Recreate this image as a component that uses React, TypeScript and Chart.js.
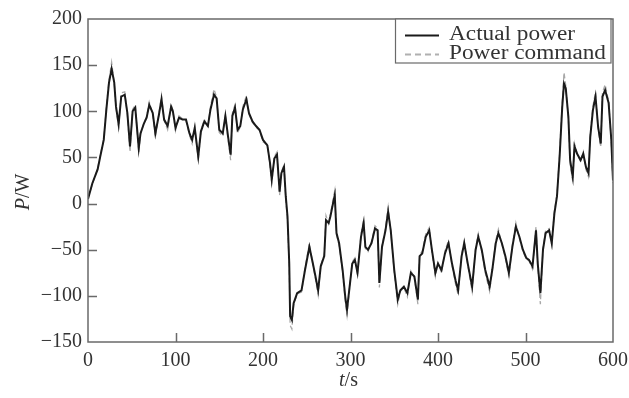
import { useEffect, useRef } from "react";
import { Chart, registerables } from "chart.js";

Chart.register(...registerables);

const timeSeconds = [
  0, 5, 11, 14, 18, 21, 24, 27, 30, 32, 35, 38, 42, 45, 48, 51, 54, 58, 60, 64,
  67, 70, 74, 77, 81, 84, 87, 91, 95, 97, 100, 104, 108, 112, 116, 119, 122, 126, 129, 133,
  137, 140, 144, 147, 150, 154, 157, 160, 163, 165, 168, 171, 174, 177, 181, 184, 188, 192, 196, 200,
  205, 208, 210, 213, 216, 219, 221, 224, 226, 228, 230, 231, 233, 235, 239, 244, 248, 253, 257, 260,
  263, 266, 270, 272, 275, 277, 280, 282, 284, 287, 291, 294, 296, 299, 302, 305, 308, 312, 315, 317,
  320, 324, 328, 331, 333, 336, 340, 343, 346, 350, 354, 357, 361, 365, 369, 373, 377, 379, 382, 386,
  390, 393, 397, 400, 404, 408, 412, 416, 420, 423, 427, 430, 434, 439, 443, 446, 450, 454, 459, 462,
  466, 469, 473, 477, 481, 485, 489, 493, 497, 501, 504, 508, 512, 514, 517, 520, 523, 527, 530, 533,
  536, 539, 542, 544, 546, 549, 551, 554, 556, 559, 563, 566, 569, 572, 574, 577, 580, 583, 586, 588,
  591, 595, 598, 600,
];

const actualPower = [
  5, 22, 37, 51, 69, 102, 131, 146, 131, 105, 86, 116, 118, 98, 62, 100, 104, 60, 76, 87,
  93, 107, 98, 76, 96, 113, 91, 84, 105, 100, 82, 93, 91, 91, 76, 69, 82, 51, 78, 89,
  84, 102, 118, 114, 80, 76, 95, 73, 53, 95, 104, 80, 84, 102, 113, 98, 89, 84, 80, 69,
  63, 44, 26, 49, 53, 13, 33, 40, 8, -14, -65, -122, -126, -108, -97, -94, -72, -47, -65, -79,
  -94, -68, -57, -18, -21, -14, 0, 9, -32, -43, -72, -101, -115, -90, -65, -61, -75, -36, -21, -47,
  -50, -43, -27, -29, -86, -47, -29, -9, -29, -72, -104, -94, -90, -97, -75, -79, -104, -57, -54, -36,
  -29, -50, -75, -65, -72, -54, -43, -65, -83, -94, -57, -43, -65, -90, -50, -36, -50, -72, -90, -72,
  -43, -32, -43, -57, -75, -47, -25, -36, -50, -59, -61, -68, -29, -65, -97, -50, -32, -29, -43, -11,
  8, 51, 105, 130, 125, 94, 47, 29, 62, 54, 47, 54, 40, 33, 72, 101, 116, 83, 65, 116,
  123, 109, 70, 25,
];

const powerCommand = [
  6, 21, 38, 52, 70, 104, 134, 153, 130, 104, 82, 120, 121, 96, 56, 102, 107, 55, 75, 88,
  94, 110, 97, 72, 97, 117, 90, 80, 108, 101, 79, 95, 92, 90, 74, 65, 84, 46, 79, 91,
  83, 105, 124, 115, 77, 73, 97, 70, 47, 98, 107, 77, 83, 105, 117, 97, 88, 83, 79, 67,
  64, 40, 22, 51, 56, 9, 34, 42, 5, -18, -70, -132, -136, -110, -98, -96, -70, -43, -66, -82,
  -99, -67, -55, -13, -22, -12, 4, 14, -34, -45, -75, -106, -121, -91, -63, -59, -78, -33, -17, -49,
  -52, -41, -24, -27, -91, -46, -26, -4, -30, -75, -109, -95, -91, -101, -73, -80, -109, -55, -52, -33,
  -26, -52, -79, -64, -75, -51, -40, -67, -87, -99, -55, -40, -67, -95, -48, -33, -52, -75, -95, -73,
  -40, -28, -44, -59, -79, -45, -21, -37, -52, -60, -62, -71, -25, -67, -109, -48, -29, -27, -45, -8,
  10, 55, 110, 142, 128, 92, 43, 24, 65, 54, 45, 56, 37, 29, 75, 105, 121, 81, 61, 120,
  129, 111, 68, 22,
];

const legendLabels = ["Actual power", "Power command"];
const yAxisLabel = ["P", "/W"];
const xAxisLabel = ["t", "/s"];
const xMin = 0;
const xMax = 600;
const xStep = 100;
const yMin = -150;
const yMax = 200;
const yStep = 50;

const SERIF = '"Liberation Serif", "DejaVu Serif", serif';
const AXIS_COLOR = "#6a6a6a";
const TEXT_COLOR = "#333333";

const framePlugin = {
  id: "frameAndDecor",
  afterDatasetsDraw(chart: any) {
    const { ctx, chartArea } = chart;
    const { left, right, top, bottom } = chartArea;
    const xs = chart.scales.x;
    const ys = chart.scales.y;
    ctx.save();
    ctx.strokeStyle = AXIS_COLOR;
    ctx.lineWidth = 1.5;
    ctx.strokeRect(left, top, right - left, bottom - top);
    ctx.beginPath();
    for (let v = xMin + xStep; v < xMax; v += xStep) {
      const px = Math.round(xs.getPixelForValue(v)) + 0.5;
      ctx.moveTo(px, bottom);
      ctx.lineTo(px, bottom - 9);
    }
    for (let v = yMin + yStep; v < yMax; v += yStep) {
      const py = Math.round(ys.getPixelForValue(v)) + 0.5;
      ctx.moveTo(left, py);
      ctx.lineTo(left + 9, py);
    }
    ctx.stroke();

    const bx = 395.5;
    const by = top;
    const bw = right - 2 - bx;
    const bh = 44;
    ctx.fillStyle = "#ffffff";
    ctx.fillRect(bx, by, bw, bh);
    ctx.strokeStyle = AXIS_COLOR;
    ctx.lineWidth = 1.2;
    ctx.strokeRect(bx, by, bw, bh);

    ctx.lineWidth = 1.8;
    ctx.strokeStyle = "#1a1a1a";
    ctx.beginPath();
    ctx.moveTo(405, by + 16.5);
    ctx.lineTo(439, by + 16.5);
    ctx.stroke();
    ctx.strokeStyle = "#b0b0b0";
    ctx.setLineDash([6, 4]);
    ctx.beginPath();
    ctx.moveTo(405, by + 35.5);
    ctx.lineTo(439, by + 35.5);
    ctx.stroke();
    ctx.setLineDash([]);

    ctx.fillStyle = TEXT_COLOR;
    ctx.font = `20px ${SERIF}`;
    ctx.textBaseline = "alphabetic";
    ctx.textAlign = "left";
    const drawStretched = (text: string, x: number, y: number, w: number) => {
      const m = ctx.measureText(text).width;
      ctx.save();
      ctx.translate(x, y);
      ctx.scale(w / m, 1);
      ctx.fillText(text, 0, 0);
      ctx.restore();
    };
    drawStretched(legendLabels[0], 449, by + 20.5, 126);
    drawStretched(legendLabels[1], 449, by + 39.5, 157);

    const drawMixed = (parts: string[], cx: number, cy: number, rotate: boolean) => {
      ctx.save();
      ctx.translate(cx, cy);
      if (rotate) ctx.rotate(-Math.PI / 2);
      ctx.textBaseline = "middle";
      ctx.font = `italic 20px ${SERIF}`;
      const w0 = ctx.measureText(parts[0]).width;
      ctx.font = `20px ${SERIF}`;
      const w1 = ctx.measureText(parts[1]).width;
      const start = -(w0 + w1) / 2;
      ctx.font = `italic 20px ${SERIF}`;
      ctx.fillText(parts[0], start, 0);
      ctx.font = `20px ${SERIF}`;
      ctx.fillText(parts[1], start + w0, 0);
      ctx.restore();
    };
    drawMixed(yAxisLabel, 24, 192, true);
    drawMixed(xAxisLabel, (left + right) / 2 - 2, 381, false);
    ctx.restore();
  },
};

export default function App() {
  const ref = useRef<HTMLCanvasElement | null>(null);
  useEffect(() => {
    document.body.style.margin = "0";
    const canvas = ref.current;
    if (!canvas) return;
    const actual = timeSeconds.map((t, i) => ({ x: t, y: actualPower[i] }));
    const command = timeSeconds.map((t, i) => ({ x: t, y: powerCommand[i] }));
    const chart = new Chart(canvas, {
      type: "line",
      data: {
        datasets: [
          {
            label: legendLabels[0],
            data: actual,
            borderColor: "#1a1a1a",
            borderWidth: 2,
            pointRadius: 0,
            tension: 0,
            fill: false,
          },
          {
            label: legendLabels[1],
            data: command,
            borderColor: "#a8a8a8",
            borderWidth: 1.3,
            borderDash: [5, 3],
            pointRadius: 0,
            tension: 0,
            fill: false,
          },
        ],
      },
      options: {
        responsive: false,
        animation: false,
        devicePixelRatio: 1,
        layout: { padding: { top: 19, right: 16, bottom: 0, left: 0 } },
        plugins: {
          legend: { display: false },
          tooltip: { enabled: false },
          title: { display: false },
        },
        scales: {
          x: {
            type: "linear",
            min: xMin,
            max: xMax,
            grid: { display: true, drawOnChartArea: false, drawTicks: false },
            border: { display: false },
            ticks: {
              stepSize: xStep,
              padding: 7,
              color: TEXT_COLOR,
              font: { family: SERIF, size: 20 },
              maxRotation: 0,
            },
            afterFit: (scale: any) => {
              scale.height = 56;
              scale.paddingLeft = 0;
              scale.paddingRight = 0;
            },
          },
          y: {
            type: "linear",
            min: yMin,
            max: yMax,
            grid: { display: true, drawOnChartArea: false, drawTicks: false },
            border: { display: false },
            ticks: {
              stepSize: yStep,
              padding: 6,
              color: TEXT_COLOR,
              font: { family: SERIF, size: 20 },
              callback: (v: any) => String(v).replace("-", "\u2212"),
            },
            afterFit: (scale: any) => {
              scale.width = 88;
              scale.paddingTop = 0;
              scale.paddingBottom = 0;
            },
          },
        },
      },
      plugins: [framePlugin],
    });
    return () => chart.destroy();
  }, []);
  return <canvas ref={ref} width={629} height={398} style={{ display: "block" }} />;
}
